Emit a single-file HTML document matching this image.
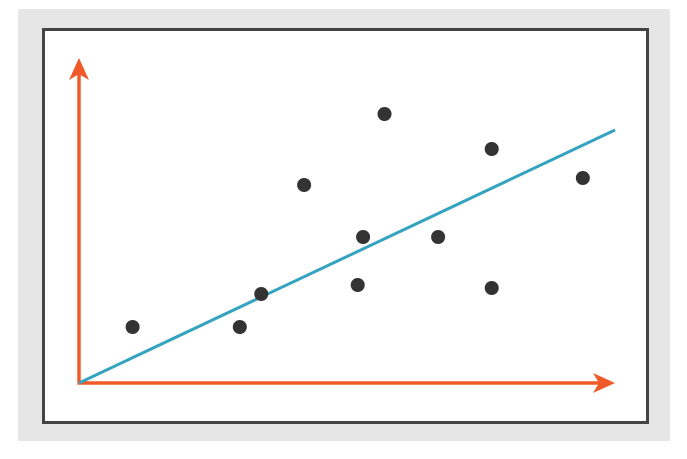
<!DOCTYPE html>
<html><head><meta charset="utf-8"><style>
html,body{margin:0;padding:0;background:#fff;width:687px;height:459px;overflow:hidden}
</style></head><body>
<svg width="687" height="459" viewBox="0 0 687 459">
<rect x="18" y="9" width="652" height="432" fill="#e6e6e6"/>
<rect x="43.5" y="29.5" width="604" height="393" fill="#fff" stroke="#444" stroke-width="3"/>
<g id="axes"></g>
<g id="marks"></g>
</svg>
<script>
const xValues = [1.0, 3.0, 3.4, 4.2, 5.2, 5.3, 5.7, 6.7, 7.7, 7.7, 9.4];
const yValues = [2.24, 2.24, 3.56, 7.92, 3.92, 5.84, 10.76, 5.84, 3.8, 9.36, 8.2];
const trendX = [0, 10];
const trendY = [0, 10.12];
const X0 = 79, Y0 = 383;
function sx(v){return X0 + v*53.6;}
function sy(v){return Y0 - v*25;}
const NS='http://www.w3.org/2000/svg';
const axes=document.getElementById('axes'), marks=document.getElementById('marks');
function mk(tag,attrs,parent){const e=document.createElementNS(NS,tag);for(const k in attrs)e.setAttribute(k,attrs[k]);parent.appendChild(e);return e;}
const ya=mk('line',{x1:X0,y1:Y0,x2:X0,y2:70,stroke:'#f05a28','stroke-width':3.5},axes);


const yh=mk('path',{d:'M79,58 L69,80 L79,74 L89,80 Z',fill:'#f05a28'},axes);


const xa=mk('line',{x1:X0-1.5,y1:Y0,x2:603,y2:Y0,stroke:'#f05a28','stroke-width':3.5},axes);


const xh=mk('path',{d:'M615,383 L593,373 L599,383 L593,393 Z',fill:'#f05a28'},axes);


const tl=mk('line',{x1:sx(trendX[0]),y1:sy(trendY[0]),x2:sx(trendX[1]),y2:sy(trendY[1]),stroke:'#34a3bf','stroke-width':3},marks);


for(let i=0;i<xValues.length;i++){
  const c=mk('circle',{cx:sx(xValues[i]),cy:sy(yValues[i]),r:7,fill:'#333'},marks);
  
  
}
</script>
</body></html>
